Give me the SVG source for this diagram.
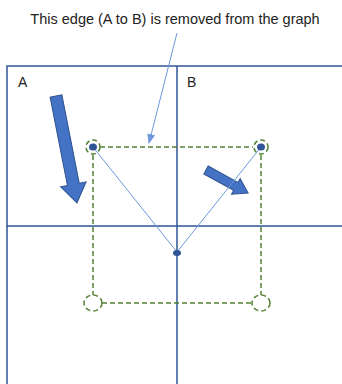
<svg xmlns="http://www.w3.org/2000/svg" width="342" height="384" viewBox="0 0 342 384">
<defs>
<style>
.grid{stroke:#2F5597;stroke-width:1.5;fill:none}
.dash{stroke:#548235;stroke-width:1.5;stroke-dasharray:5,3;fill:none}
.edge{stroke:#6F97DC;stroke-width:1;fill:none}
.dot{fill:#2F5597}
.blk{fill:#4472C4;stroke:#2F528F;stroke-width:1}
.lbl{font-family:"Liberation Sans",Arial,sans-serif;font-size:14px;fill:#222}
</style>
<marker id="ah" markerWidth="10" markerHeight="10" refX="9" refY="5" orient="auto" markerUnits="userSpaceOnUse">
<path d="M0,1 L10,5 L0,9 z" fill="#6F97DC"/>
</marker>
</defs>
<rect width="342" height="384" fill="#fff"/>
<g id="grid">
<path class="grid" d="M7,384 V66 H342 M177,66 V384 M7,226 H342"/>
</g>
<text class="lbl" x="18" y="87">A</text>
<text class="lbl" x="187" y="87">B</text>
<text class="lbl" x="175" y="24" text-anchor="middle" style="font-size:14.5px">This edge (A to B) is removed from the graph</text>
<g id="block-arrows">
<polygon class="blk" points="0,-6 90,-6 90,-13 109,0 90,13 90,6 0,6" transform="translate(56,96) rotate(78.9)"/>
<polygon class="blk" points="0,-4.5 34,-4.5 34,-9 48,0 34,9 34,4.5 0,4.5" transform="translate(206,170) rotate(28.7)"/>
</g>
<g id="connectors">
<path class="dash" d="M100,147 H253 M93,155 V295 M261,155 V295 M102,303 H252"/>
<path class="edge" d="M93,147 L177,252 L261,147"/>
<path class="edge" d="M177,33 L149,143" marker-end="url(#ah)"/>
</g>
<g id="node-tl">
<circle class="dash" cx="93" cy="147" r="7"/>
<ellipse class="dot" cx="93" cy="147" rx="4" ry="3.5"/>
</g>
<g id="node-tr">
<circle class="dash" cx="261" cy="147" r="7"/>
<ellipse class="dot" cx="261" cy="147" rx="4" ry="3.5"/>
</g>
<g id="node-c">
<ellipse class="dot" cx="177" cy="253" rx="4" ry="3"/>
</g>
<g id="node-bl">
<ellipse class="dash" cx="93" cy="303" rx="9" ry="8"/>
</g>
<g id="node-br">
<ellipse class="dash" cx="261" cy="303" rx="9" ry="8"/>
</g>
</svg>
